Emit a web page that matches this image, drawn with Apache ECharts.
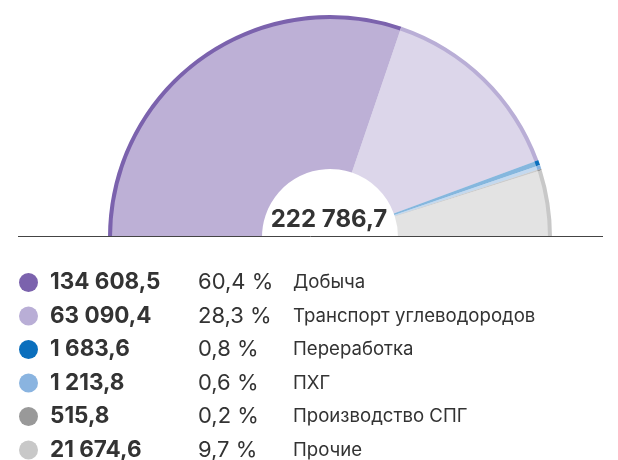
<!DOCTYPE html>
<html>
<head>
<meta charset="utf-8">
<script src="https://cdn.jsdelivr.net/npm/echarts@6/dist/echarts.min.js"></script>
<style>
  html, body { margin: 0; padding: 0; background: #fff; }
  #chart { width: 618px; height: 460px; }
</style>
</head>
<body>
<div id="chart"></div>
<script>
// сегменты инвестиций
const names = ['Добыча', 'Транспорт углеводородов', 'Переработка', 'ПХГ', 'Производство СПГ', 'Прочие'];
const values = [134608.5, 63090.4, 1683.6, 1213.8, 515.8, 21674.6];
const percents = ['60,4 %', '28,3 %', '0,8 %', '0,6 %', '0,2 %', '9,7 %'];
const colors = ['#7b62ad', '#b9aed6', '#0b6fbd', '#8ab4e0', '#999999', '#c8c8c8'];

const fmt = (v) => {
  const parts = v.toFixed(1).split('.');
  return parts[0].replace(/\B(?=(\d{3})+(?!\d))/g, ' ') + ',' + parts[1];
};

const total = values.reduce((a, b) => a + b, 0);

const myChart = echarts.init(document.getElementById('chart'));

const pieData = names.map((n, i) => ({ name: n, value: values[i] }));

const option = {
  animation: false,
  color: colors,
  title: {
    text: fmt(total),
    left: 324,
    top: 203,
    textAlign: 'center',
    textStyle: {
      fontFamily: 'Inter',
      fontWeight: 'bold',
      fontSize: 24,
      color: '#333',
    },
  },
  legend: {
    orient: 'vertical',
    left: 14,
    top: 266,
    height: 200,
    itemWidth: 19,
    itemHeight: 19,
    itemGap: 10.5,
    icon: 'circle',
    selectedMode: false,
    itemStyle: { opacity: 1 },
    data: names,
    formatter: (name) => {
      const i = names.indexOf(name);
      return '{v|' + fmt(values[i]) + '}{p|' + percents[i] + '}{n|' + name + '}';
    },
    textStyle: {
      padding: [0, 0, 0, 7],
      rich: {
        v: { width: 148, lineHeight: 24, fontFamily: 'Inter', fontWeight: 'bold', fontSize: 22.5, color: '#333' },
        p: { width: 95, lineHeight: 24, fontFamily: 'Inter', fontSize: 22, color: '#333' },
        n: { lineHeight: 24, fontFamily: 'Inter', fontSize: 18.6, color: '#333' },
      },
    },
  },
  graphic: [
    {
      type: 'line',
      shape: { x1: 18, y1: 236.5, x2: 603, y2: 236.5 },
      style: { stroke: '#444', lineWidth: 1 },
      z: 100,
    },
  ],
  series: [
    {
      // заливка
      name: 'fill',
      type: 'pie',
      center: [330, 237],
      radius: [68, 219],
      startAngle: 180,
      endAngle: 360,
      silent: true,
      label: { show: false },
      labelLine: { show: false },
      itemStyle: { opacity: 0.5, borderWidth: 0 },
      data: pieData,
    },
    {
      // внешний контур
      name: 'edge',
      type: 'pie',
      center: [330, 237],
      radius: [218, 222],
      startAngle: 180,
      endAngle: 360,
      silent: true,
      label: { show: false },
      labelLine: { show: false },
      itemStyle: { borderWidth: 0 },
      data: pieData,
    },
  ],
};

myChart.setOption(option);
</script>
</body>
</html>
